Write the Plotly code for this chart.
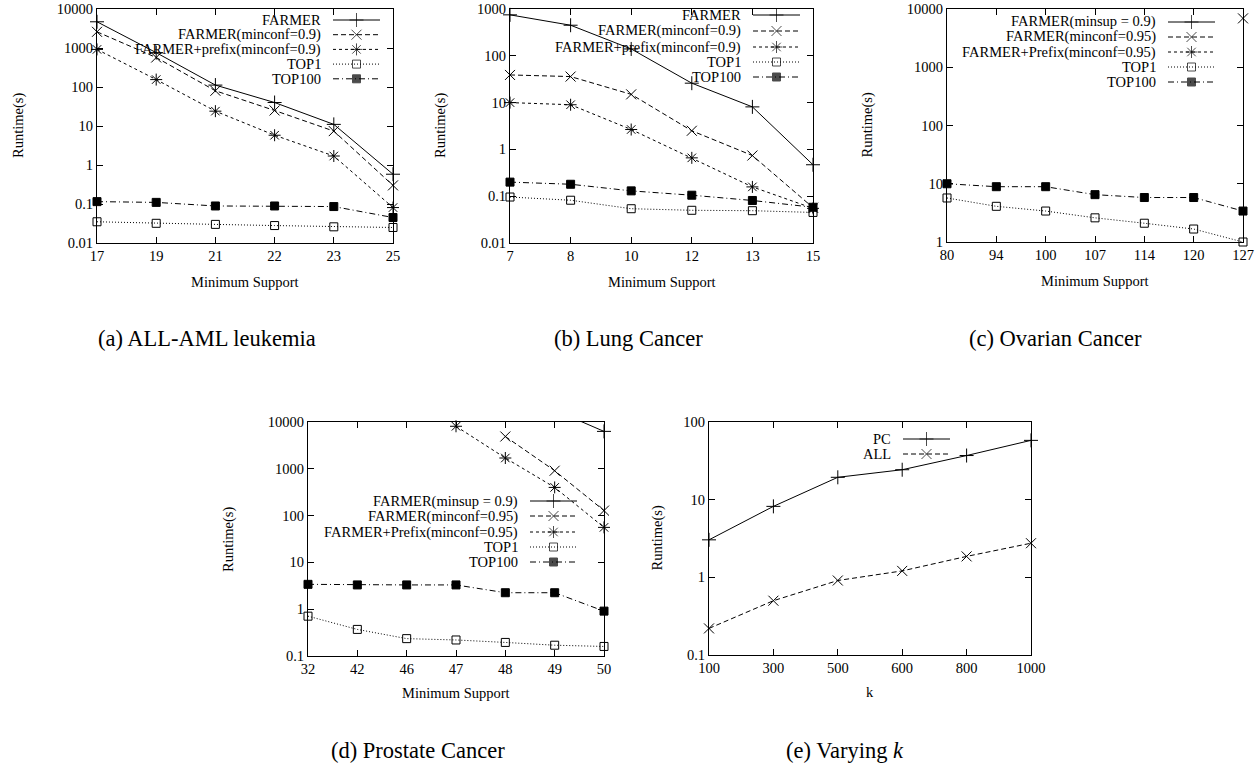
import plotly.graph_objects as go
import math

W, H = 1256, 763
FONT = "Liberation Serif, Times New Roman, serif"

# ---------------- data ----------------
a_x = ["17", "19", "21", "22", "23", "25"]
a_farmer = [4700, 760, 112, 40, 11, 0.58]
a_minconf = [2600, 570, 80, 25, 7.4, 0.30]
a_prefix = [920, 155, 24, 5.8, 1.7, 0.081]
a_top1 = [0.035, 0.032, 0.030, 0.028, 0.026, 0.025]
a_top100 = [0.115, 0.11, 0.089, 0.089, 0.086, 0.045]

b_x = ["7", "8", "10", "12", "13", "15"]
b_farmer = [750, 450, 140, 26, 8.1, 0.47]
b_minconf = [39, 36, 15, 2.5, 0.74, 0.057]
b_prefix = [10, 9, 2.66, 0.66, 0.158, 0.055]
b_top1 = [0.096, 0.082, 0.054, 0.050, 0.049, 0.045]
b_top100 = [0.20, 0.18, 0.13, 0.105, 0.081, 0.058]

c_x = ["80", "94", "100", "107", "114", "120", "127"]
c_farmer = [None, None, None, None, None, None, None]
c_minconf = [None, None, None, None, None, None, 6900]
c_prefix = [None, None, None, None, None, None, None]
c_top1 = [5.7, 4.1, 3.4, 2.6, 2.1, 1.67, 1.0]
c_top100 = [10, 8.9, 8.9, 6.5, 5.8, 5.8, 3.4]

d_x = ["32", "42", "46", "47", "48", "49", "50"]
d_farmer = [None, None, None, None, None, 18000, 6300]
d_minconf = [None, None, None, None, 4900, 910, 128]
d_prefix = [None, None, None, 8100, 1700, 400, 56]
d_top1 = [0.71, 0.37, 0.235, 0.22, 0.195, 0.17, 0.16]
d_top100 = [3.4, 3.3, 3.3, 3.3, 2.25, 2.25, 0.91]

e_x = ["100", "300", "500", "600", "800", "1000"]
e_pc = [3.04, 8.2, 19.4, 24.3, 37, 58]
e_all = [0.22, 0.50, 0.91, 1.21, 1.86, 2.75]

names_ab = ["FARMER", "FARMER(minconf=0.9)", "FARMER+prefix(minconf=0.9)", "TOP1", "TOP100"]
names_cd = ["FARMER(minsup = 0.9)", "FARMER(minconf=0.95)", "FARMER+Prefix(minconf=0.95)", "TOP1", "TOP100"]
names_e = ["PC", "ALL"]

captions = ["(a) ALL-AML leukemia", "(b) Lung Cancer", "(c) Ovarian Cancer",
            "(d) Prostate Cancer", "(e) Varying <i>k</i>"]

# ---------------- styles ----------------
STY = [
    dict(dash="solid", symbol="cross-thin-open", size=10),
    dict(dash="5px,3px", symbol="x-thin-open", size=10),
    dict(dash="3px,3px", symbol="asterisk-open", size=10),
    dict(dash="1px,2px", symbol="square-open", size=8),
    dict(dash="6px,3px,1px,3px", symbol="square", size=8),
]

# panel boxes in pixels: left, right, top, bottom
panels = [
    dict(box=(97, 393, 9, 243), yr=(0.01, 10000), x=a_x,
         ys=[a_farmer, a_minconf, a_prefix, a_top1, a_top100], names=names_ab, sty=[0, 1, 2, 3, 4],
         leg=(323, [20, 34.7, 49.4, 64.1, 78.8]), ylab=18, xlab="Minimum Support", cap=(207, 338)),
    dict(box=(510, 813, 9, 243), yr=(0.01, 1000), x=b_x,
         ys=[b_farmer, b_minconf, b_prefix, b_top1, b_top100], names=names_ab, sty=[0, 1, 2, 3, 4],
         leg=(743, [15, 31, 47, 62, 77]), ylab=440, xlab="Minimum Support", cap=(628, 338)),
    dict(box=(947, 1243, 9, 242), yr=(1, 10000), x=c_x,
         ys=[c_farmer, c_minconf, c_prefix, c_top1, c_top100], names=names_cd, sty=[0, 1, 2, 3, 4],
         leg=(1158, [22, 37, 52, 67, 82]), ylab=867, xlab="Minimum Support", cap=(1055, 338)),
    dict(box=(308, 604, 422, 656), yr=(0.1, 10000), x=d_x,
         ys=[d_farmer, d_minconf, d_prefix, d_top1, d_top100], names=names_cd, sty=[0, 1, 2, 3, 4],
         leg=(520, [501, 516, 532, 547, 562]), ylab=228, xlab="Minimum Support", cap=(418, 750)),
    dict(box=(709, 1031, 422, 655), yr=(0.1, 100), x=e_x,
         ys=[e_pc, e_all], names=names_e, sty=[0, 1],
         leg=(893, [439, 454]), ylab=657, xlab="k", cap=(845, 750)),
]

def px(x):
    return x / W

def py(y):
    return 1 - y / H

fig = go.Figure()
annotations = []

def fmt(v):
    return ("%g" % v)

TF = dict(family=FONT, size=14.5, color="black")

for i, p in enumerate(panels, start=1):
    L, R, T, B = p["box"]
    xa = "x" if i == 1 else "x%d" % i
    ya = "y" if i == 1 else "y%d" % i
    lo, hi = p["yr"]
    for ys, nm, si in zip(p["ys"], p["names"], p["sty"]):
        s = STY[si]
        # line (clipped to the axes box)
        fig.add_trace(go.Scatter(
            x=p["x"], y=ys, name=nm, mode="lines", xaxis=xa, yaxis=ya,
            line=dict(color="black", width=1, dash=s["dash"]),
            cliponaxis=True, showlegend=False, connectgaps=False))
        # markers (not clipped so edge markers stay whole); only those in range
        ym = [v if (v is not None and lo <= v <= hi) else None for v in ys]
        fig.add_trace(go.Scatter(
            x=p["x"], y=ym, name=nm, mode="markers", xaxis=xa, yaxis=ya,
            marker=dict(symbol=s["symbol"], size=s["size"], color="black",
                        line=dict(color="black", width=1)),
            cliponaxis=False, showlegend=False))
    decades = list(range(int(round(math.log10(lo))), int(round(math.log10(hi))) + 1))
    tv = [10.0 ** d for d in decades]
    minor = [m * 10.0 ** d for d in decades[:-1] for m in range(2, 10)]
    axkey = "" if i == 1 else str(i)
    common = dict(showline=True, linecolor="black", linewidth=1, mirror="ticks",
                  ticks="inside", tickcolor="black", showgrid=False, zeroline=False,
                  tickfont=TF, automargin=False, ticklabeloverflow="allow")
    fig.layout["xaxis" + axkey] = dict(
        domain=[px(L), px(R)], anchor=ya, type="category",
        range=[0, len(p["x"]) - 1], ticklen=6, **common)
    fig.layout["yaxis" + axkey] = dict(
        domain=[py(B), py(T)], anchor=xa, type="log",
        range=[math.log10(lo), math.log10(hi)], tickmode="array", tickvals=tv,
        ticktext=[fmt(v) for v in tv], ticklen=6, **common)
    # minor ticks on an overlaying axis
    mk = str(10 + i)
    fig.layout["yaxis" + mk] = dict(
        overlaying=ya, anchor=xa, type="log", range=[math.log10(lo), math.log10(hi)],
        tickmode="array", tickvals=minor, showticklabels=False, ticks="inside", ticklen=3,
        tickcolor="black", showline=False, mirror="ticks", showgrid=False, zeroline=False,
        automargin=False)
    # axis titles
    annotations.append(dict(x=px(p["ylab"]), y=py((T + B) / 2), xref="paper", yref="paper",
                            xanchor="center", yanchor="middle",
                            text="Runtime(s)", textangle=-90, showarrow=False, font=TF))
    ylab_y = B + 39 if i <= 3 else B + 37
    annotations.append(dict(x=px((L + R) / 2), y=py(ylab_y), xref="paper", yref="paper",
                            xanchor="center", yanchor="middle",
                            text=p["xlab"], showarrow=False, font=TF))
    annotations.append(dict(x=px(p["cap"][0]), y=py(p["cap"][1]), xref="paper", yref="paper",
                            xanchor="center", yanchor="middle",
                            text=captions[i - 1], showarrow=False,
                            font=dict(family=FONT, size=22.5, color="black")))
    # key: text right-aligned, sample to the right
    tx, rows = p["leg"]
    for nm, si, ry in zip(p["names"], p["sty"], rows):
        annotations.append(dict(x=px(tx), y=py(ry), xref="paper", yref="paper",
                                xanchor="right", yanchor="middle", text=nm, showarrow=False,
                                font=TF))
        s = STY[si]
        x1, x2 = tx + 10, tx + 57
        fig.add_trace(go.Scatter(
            x=[x1, (x1 + x2) / 2, x2], y=[ry, ry, ry], mode="lines+markers",
            xaxis="x9", yaxis="y9", showlegend=False, hoverinfo="skip",
            line=dict(color="black", width=1, dash=s["dash"]),
            marker=dict(symbol=s["symbol"], size=[0, s["size"], 0], color="black",
                        line=dict(color="black", width=1))))

fig.layout["xaxis9"] = dict(domain=[0, 1], range=[0, W], visible=False, anchor="y9",
                            automargin=False)
fig.layout["yaxis9"] = dict(domain=[0, 1], range=[H, 0], visible=False, anchor="x9",
                            automargin=False)

fig.update_layout(width=W, height=H, margin=dict(l=0, r=0, t=0, b=0, pad=0, autoexpand=False),
                  paper_bgcolor="white", plot_bgcolor="rgba(0,0,0,0)",
                  annotations=annotations, showlegend=False,
                  font=dict(family=FONT, color="black"))

fig.write_html("out.html", config={"displayModeBar": False},
               post_script="document.body.style.margin='0';document.body.style.overflow='hidden';")
